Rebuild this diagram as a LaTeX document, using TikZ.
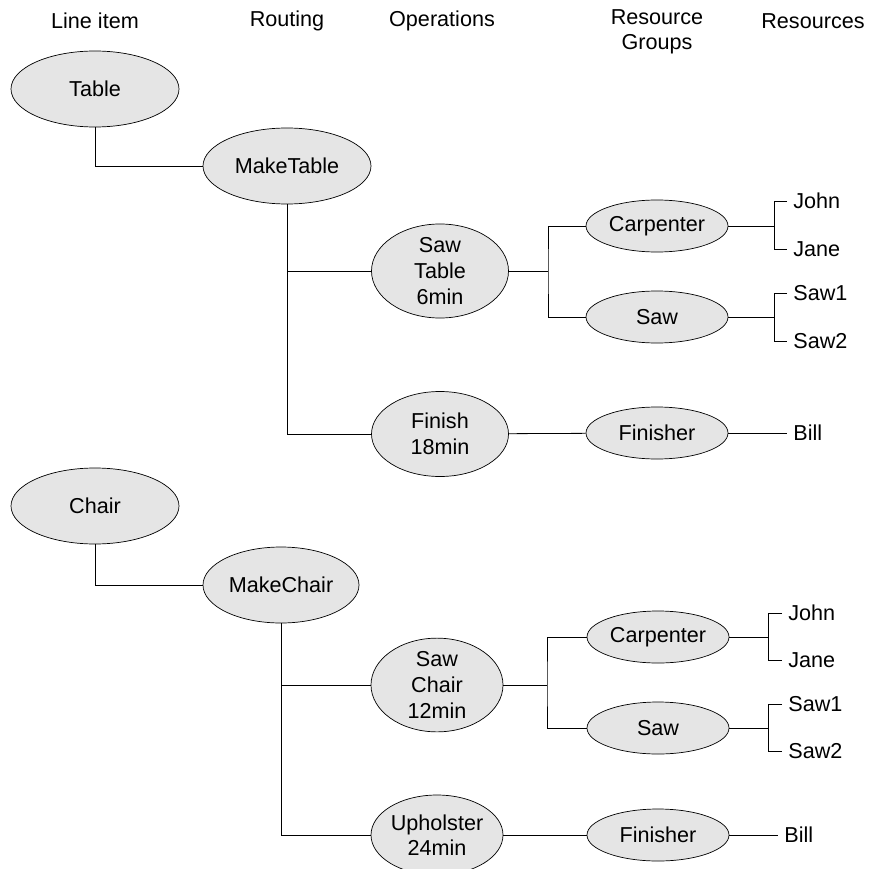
\documentclass[tikz,border=0pt]{standalone}
\usepackage{fontspec}
\setmainfont{Liberation Sans}
\usetikzlibrary{shapes.geometric}
\tikzset{
  bubble/.style={draw, ellipse, fill=gray!20, inner sep=0pt, line width=0.7pt, align=center},
  item/.style={bubble, minimum width=168pt, minimum height=76pt},
  op/.style={bubble, minimum width=137pt, minimum height=85pt},
  grp/.style={bubble, minimum width=142pt, minimum height=52pt},
  res/.style={anchor=west, inner xsep=6pt, inner ysep=0pt},
}
\begin{document}
\begin{tikzpicture}[x=1pt, y=-1pt, line width=0.8pt, font=\fontsize{21.6}{25.6}\selectfont]
	\useasboundingbox (0,0) rectangle (868,869);

	% column headings
	\node (hitem) at (95,21) {Line item};
	\node (hrout) at (287,21) {Routing};
	\node (hops) at (442,21) {Operations};
	\node[align=center] (hgrp) at (657,32) {Resource\\Groups};
	\node (hres) at (813,21) {Resources};

	% table
	\node[item] (table) at (95,89) {Table};
	\node[item] (mktable) at (287,166) {MakeTable};
	\node[op] (sawtable) at (440,271) {Saw\\Table\\6min};
	\node[op] (finish) at (440,434) {Finish\\18min};
	\node[grp] (carp1) at (657,226) {Carpenter};
	\node[grp] (saw1) at (657,317) {Saw};
	\node[grp] (fin1) at (657,433) {Finisher};
	\node[res] (john1) at (787,201) {John};
	\node[res] (jane1) at (787,249) {Jane};
	\node[res] (sawa1) at (787,293) {Saw1};
	\node[res] (sawb1) at (787,341) {Saw2};
	\node[res] (bill1) at (787,433) {Bill};
	\coordinate (fk1) at (548,271);
	\coordinate (bc1) at (774,226);
	\coordinate (bs1) at (774,317);

	\draw (table.south) |- (mktable.west);
	\draw (mktable.south) |- (sawtable.west);
	\draw (mktable.south) |- (finish.west);
	\draw (sawtable) -- (fk1);
	\draw (carp1.west) -| (fk1) |- (saw1.west);
	\draw (finish) -- (fin1);
	\draw (carp1) -- (bc1);
	\draw (john1.west) -| (bc1) |- (jane1.west);
	\draw (saw1) -- (bs1);
	\draw (sawa1.west) -| (bs1) |- (sawb1.west);
	\draw (fin1) -- (bill1.west);

	% chair
	\node[item] (chair) at (95,506) {Chair};
	\node[item, minimum width=156pt] (mkchair) at (281,585) {MakeChair};
	\node[op, minimum width=132pt, minimum height=82pt] (sawchair) at (437,685) {Saw\\Chair\\12min};
	\node[op, minimum width=132pt, minimum height=80pt] (uphol) at (437,835) {Upholster\\24min};
	\node[grp] (carp2) at (658,637) {Carpenter};
	\node[grp] (saw2) at (658,728) {Saw};
	\node[grp] (fin2) at (658,835) {Finisher};
	\node[res] (john2) at (782,613) {John};
	\node[res] (jane2) at (782,660) {Jane};
	\node[res] (sawa2) at (782,704) {Saw1};
	\node[res] (sawb2) at (782,751) {Saw2};
	\node[res] (bill2) at (778,835) {Bill};
	\coordinate (fk2) at (547,685);
	\coordinate (bc2) at (768,637);
	\coordinate (bs2) at (768,728);

	\draw (chair.south) |- (mkchair.west);
	\draw (mkchair.south) |- (sawchair.west);
	\draw (mkchair.south) |- (uphol.west);
	\draw (sawchair) -- (fk2);
	\draw (carp2.west) -| (fk2) |- (saw2.west);
	\draw (uphol) -- (fin2);
	\draw (carp2) -- (bc2);
	\draw (john2.west) -| (bc2) |- (jane2.west);
	\draw (saw2) -- (bs2);
	\draw (sawa2.west) -| (bs2) |- (sawb2.west);
	\draw (fin2) -- (bill2.west);
\end{tikzpicture}
\end{document}
